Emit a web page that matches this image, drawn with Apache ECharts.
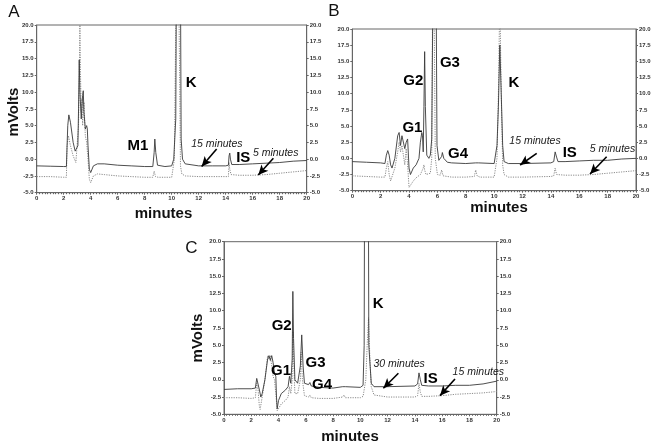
<!DOCTYPE html>
<html><head><meta charset="utf-8">
<script src="https://cdn.jsdelivr.net/npm/echarts@6/dist/echarts.min.js"></script>
<style>html,body{margin:0;padding:0;background:#fff}#c{width:657px;height:447px}</style>
</head><body><div id="c"></div>
<script>
// ---- data (time in minutes, signal in mV) ----
const xTicks = [0,2,4,6,8,10,12,14,16,18,20];
const yTicks = [-5,-2.5,0,2.5,5,7.5,10,12.5,15,17.5,20];

const aSolid15 = [[0,-1.0],[1,-1.05],[2,-1.1],[2.2,-1.1],[2.3,5.0],[2.38,6.6],[2.5,5.5],[2.7,2.5],[2.85,1.2],[2.95,1.0],[3.05,2.0],[3.1,7.5],[3.15,14.8],[3.2,10],[3.3,6],[3.4,9.5],[3.45,10.2],[3.5,7],[3.6,4.5],[3.7,5.0],[3.75,4.5],[3.8,2],[3.9,-1.5],[4.0,-2.0],[4.2,-1.0],[4.5,-0.7],[5,-0.7],[6,-0.9],[7,-1.0],[8,-1.1],[8.6,-1.1],[8.7,1.0],[8.75,3.0],[8.82,1.0],[8.95,-0.9],[9.5,-1.1],[10.0,-1.0],[10.15,0],[10.3,6],[10.38,40],[10.5,45],[10.62,40],[10.7,3],[10.8,0],[11,-0.7],[12,-1.0],[13,-1.0],[14,-1.0],[14.2,-0.9],[14.25,0.5],[14.3,0.9],[14.35,0],[14.45,-0.8],[15,-0.8],[16,-0.7],[17,-0.6],[18,-0.5],[19,-0.3],[20,-0.2]];
const aDotted5 = [[0,-2.6],[1,-2.6],[2,-2.7],[2.2,-2.7],[2.25,2.0],[2.35,3.5],[2.5,2.0],[2.7,0.5],[2.9,-0.5],[3.0,-0.5],[3.1,5],[3.15,12],[3.2,20],[3.25,12],[3.3,7],[3.35,9],[3.4,5],[3.5,8.5],[3.55,6],[3.6,3.5],[3.7,2.5],[3.8,0],[3.9,-3.0],[4.0,-3.5],[4.2,-2.5],[4.5,-2.2],[5,-2.3],[6,-2.5],[7,-2.6],[8,-2.7],[8.6,-2.7],[8.7,-1.8],[8.8,-2.6],[9,-2.7],[10,-2.7],[10.1,-2.5],[10.2,0],[10.3,20],[10.35,45],[10.45,45],[10.55,20],[10.65,-1],[10.75,-2.2],[11,-2.5],[12,-2.6],[14,-2.6],[14.2,-2.6],[14.25,-0.5],[14.3,-1.5],[14.4,-2.3],[15,-2.4],[16,-2.4],[17,-2.3],[18,-2.1],[19,-1.9],[20,-1.7]];

const bSolid15 = [[0,-0.5],[1,-0.6],[2,-0.7],[2.3,-0.8],[2.4,0.5],[2.5,1.2],[2.6,0.5],[2.7,-1.0],[2.8,-1.5],[3.0,0],[3.2,3.5],[3.3,4.0],[3.4,2.0],[3.5,3.5],[3.6,3.8],[3.7,1.5],[3.8,2.5],[3.9,3.0],[4.0,-1.5],[4.1,-2.5],[4.3,-1.5],[4.5,-1.0],[4.7,0],[4.8,2.5],[4.9,4.0],[4.95,3.5],[5.0,1.0],[5.05,8],[5.1,16.5],[5.15,8],[5.25,0.5],[5.4,0],[5.5,0.5],[5.6,3],[5.7,30],[5.8,45],[5.9,30],[5.97,2],[6.1,-0.3],[6.3,0.3],[6.35,0.9],[6.45,0],[6.7,-0.6],[7,-0.7],[8,-0.8],[8.7,-0.7],[8.8,-0.5],[8.9,-0.7],[10,-0.8],[10.2,2],[10.3,8],[10.4,17.5],[10.5,10],[10.6,2],[10.7,-0.5],[11,-0.8],[12,-0.8],[14,-0.7],[14.2,-0.5],[14.3,1.0],[14.4,0.2],[14.5,-0.5],[15,-0.5],[16,-0.4],[17,-0.3],[18,-0.3],[19,-0.1],[20,0.0]];
const bDotted5 = [[0,-2.7],[1,-2.8],[2,-2.9],[2.3,-2.9],[2.4,-1.5],[2.5,-0.5],[2.6,-2.5],[2.7,-3.5],[2.8,-3.2],[3.0,-1.5],[3.2,1.0],[3.3,2.5],[3.4,1.0],[3.5,2.0],[3.6,0.5],[3.7,-1.0],[3.8,1.5],[3.9,-1.0],[4.0,-4.5],[4.1,-4.7],[4.3,-3.5],[4.5,-3.0],[4.8,-2.5],[5.0,-1.5],[5.05,-1.0],[5.1,-1.8],[5.2,-2.5],[5.5,-2.3],[5.6,0],[5.65,20],[5.7,45],[5.78,20],[5.85,0],[6.0,-2.5],[6.2,-2.6],[6.3,-1.8],[6.4,-2.7],[7,-2.9],[8,-2.9],[8.6,-2.8],[8.7,-1.8],[8.8,-2.7],[9,-2.9],[10,-2.9],[10.2,0],[10.3,10],[10.4,25],[10.5,10],[10.6,-1],[10.7,-2.5],[11,-2.9],[12,-2.9],[14,-2.8],[14.2,-2.7],[14.3,-1.5],[14.4,-2.5],[15,-2.6],[16,-2.6],[17,-2.5],[18,-2.3],[19,-2.1],[20,-1.9]];

const cSolid30 = [[0,-1.4],[1,-1.3],[2,-1.3],[2.3,-1.2],[2.4,0.2],[2.5,0.1],[2.6,-1.5],[2.7,-2.5],[2.8,-2.0],[3.0,0],[3.2,3.0],[3.3,3.5],[3.4,2.8],[3.5,3.5],[3.6,2.5],[3.7,1.0],[3.8,0.5],[3.85,-2.5],[3.9,-4.2],[4.0,-3.0],[4.2,-2.0],[4.5,-1.5],[4.7,-1.0],[4.8,0.5],[4.9,-0.5],[5.0,3],[5.05,12.8],[5.1,6],[5.2,0],[5.4,-0.5],[5.6,2],[5.7,6.5],[5.8,2],[5.9,-0.5],[6.2,-0.7],[6.3,-0.4],[6.4,-0.9],[7,-1.1],[8,-1.2],[8.7,-1.0],[8.8,-0.8],[8.9,-1.0],[10,-1.1],[10.2,-0.8],[10.28,5],[10.33,45],[10.45,50],[10.57,45],[10.62,5],[10.8,-0.5],[11,-1.0],[12,-1.0],[14,-0.9],[14.2,-0.6],[14.3,1.0],[14.4,0.0],[14.5,-0.8],[15,-0.9],[16,-0.9],[17,-0.8],[18,-0.8],[19,-0.6],[20,-0.2]];
const cDotted15 = [[0,-2.6],[1,-2.6],[2,-2.7],[2.3,-2.6],[2.4,-0.5],[2.5,-1.5],[2.6,-4.0],[2.65,-4.3],[2.8,-2.5],[3.0,0],[3.2,3.5],[3.3,3.0],[3.4,3.5],[3.5,2.0],[3.6,0.5],[3.7,0],[3.8,-2.0],[3.9,-4.5],[4.0,-4.3],[4.2,-3.5],[4.5,-3.0],[4.7,-2.5],[4.8,-1.0],[4.9,-2.0],[5.0,0],[5.05,7],[5.1,3],[5.2,-2.0],[5.4,-2.0],[5.6,0],[5.65,4],[5.75,0],[5.9,-2.3],[6.2,-2.5],[6.3,-2.2],[6.4,-2.6],[7,-2.7],[8,-2.7],[8.7,-2.5],[8.8,-2.2],[8.9,-2.6],[10,-2.6],[10.2,-2.4],[10.4,0],[10.5,5],[10.6,9],[10.7,3],[10.8,-1],[11,-2.2],[12,-2.5],[14,-2.5],[14.2,-2.3],[14.3,-0.5],[14.4,-1.8],[14.5,-2.4],[15,-2.4],[16,-2.3],[17,-2.1],[18,-2.0],[19,-1.9],[20,-1.7]];

// peak labels [time, mV, text]
const aPeakLabels = [[7.5,1.96,'M1'],[11.44,11.43,'K'],[15.3,0.25,'IS']];
const bPeakLabels = [[6.88,14.82,'G3'],[4.3,11.96,'G2'],[4.24,4.77,'G1'],[7.45,0.67,'G4'],[11.4,11.73,'K'],[15.33,0.9,'IS']];
const cPeakLabels = [[11.31,10.95,'K'],[4.23,7.82,'G2'],[6.71,2.5,'G3'],[4.18,1.3,'G1'],[7.19,-0.76,'G4'],[15.16,0.19,'IS']];
// run-time notes [time, mV, text]
const aNotes = [[13.35,2.26,'15 minutes'],[17.7,0.92,'5 minutes']];
const bNotes = [[12.88,2.68,'15 minutes'],[18.34,1.37,'5 minutes']];
const cNotes = [[12.84,2.26,'30 minutes'],[18.65,1.05,'15 minutes']];
// arrows [[t0,v0],[t1,v1]]
const aArrows = [[[13.33,1.5],[12.22,-1.1]],[[17.53,0.13],[16.41,-2.36]]];
const bArrows = [[[13.0,0.78],[11.83,-1.03]],[[17.93,0.26],[16.76,-2.42]]];
const cArrows = [[[12.79,0.94],[11.69,-1.23]],[[16.94,0.11],[15.84,-2.3]]];

// ---- chart ----
const FONT = 'Liberation Sans, Arial, sans-serif';
const chart = echarts.init(document.getElementById('c'), null, {renderer:'canvas'});
const grids = [
  {left:36.7, top:25, width:270, height:167.7},
  {left:352.3, top:29, width:283.7, height:161.7},
  {left:224, top:241.7, width:272.7, height:172.6}
];
const yMin = yTicks[0], yMax = yTicks[yTicks.length-1], yInt = yTicks[1]-yTicks[0];
const xMin = xTicks[0], xMax = xTicks[xTicks.length-1], xInt = xTicks[1]-xTicks[0];
const axisCol = '#666';
const xAxes = grids.map((g,i)=>({
  type:'value', gridIndex:i, min:xMin, max:xMax, interval:xInt,
  axisLine:{onZero:false, lineStyle:{color:axisCol, width:1}},
  axisTick:{show:true, length:2, lineStyle:{color:axisCol}},
  minorTick:{show:true, splitNumber:10, length:1.5, lineStyle:{color:axisCol}},
  splitLine:{show:false},
  axisLabel:{fontSize:6, fontWeight:'bold', color:'#333', margin:3, fontFamily:FONT}
}));
const yAxes = [];
grids.forEach((g,i)=>{
  ['left','right'].forEach(pos=>{
    yAxes.push({
      type:'value', gridIndex:i, position:pos, min:yMin, max:yMax, interval:yInt,
      axisLine:{show:true, onZero:false, lineStyle:{color:axisCol, width:1}},
      axisTick:{show:true, length:2, lineStyle:{color:axisCol}},
      splitLine:{show:false},
      axisLabel:{fontSize:6, fontWeight:'bold', color:'#333', margin:3, fontFamily:FONT,
        formatter:v=>v.toFixed(1)}
    });
  });
});
const solidStyle = {color:'#3a3a3a', width:0.9};
const dotStyle = {color:'#8a8a8a', width:1, type:[1.2,1.2]};
function trace(data, i, style, z){
  return {type:'line', xAxisIndex:i, yAxisIndex:i*2, data:data, showSymbol:false, symbol:'none',
    lineStyle:style, clip:true, z:z, silent:true};
}
function labels(data, i, fs, italic){
  return {type:'scatter', xAxisIndex:i, yAxisIndex:i*2, data:data, symbolSize:0, silent:true, z:10,
    itemStyle:{color:'#000', opacity:0},
    label:{show:true, position:'inside', formatter:p=>p.data[2], color:italic?'#1a1a1a':'#000',
      textBorderWidth:0, textBorderColor:'transparent', opacity:1,
      fontSize:fs, fontWeight:italic?'normal':'bold', fontStyle:italic?'italic':'normal', fontFamily:FONT}};
}
function arrows(data, i){
  return {type:'line', xAxisIndex:i, yAxisIndex:i*2, data:[], silent:true,
    markLine:{silent:true, symbol:['none','arrow'], symbolSize:[7,10], animation:false,
      label:{show:false}, lineStyle:{color:'#000', width:1.6, type:'solid'},
      itemStyle:{color:'#000'},
      data:data.map(a=>[{coord:a[0]},{coord:a[1]}])}};
}
const series = [
  trace(aDotted5,0,dotStyle,2), trace(aSolid15,0,solidStyle,3),
  trace(bDotted5,1,dotStyle,2), trace(bSolid15,1,solidStyle,3),
  trace(cDotted15,2,dotStyle,2), trace(cSolid30,2,solidStyle,3),
  labels(aPeakLabels,0,15,false), labels(bPeakLabels,1,15,false), labels(cPeakLabels,2,15,false),
  labels(aNotes,0,10.5,true), labels(bNotes,1,10.5,true), labels(cNotes,2,10.5,true),
  arrows(aArrows,0), arrows(bArrows,1), arrows(cArrows,2)
];
function txt(x,y,s,font,rot){
  return {type:'text', x:x, y:y, rotation:rot||0, z:20, silent:true,
    style:{text:s, font:font, fill:'#111', textAlign:'center', textVerticalAlign:'middle'}};
}
const boldT = 'bold 15px Liberation Sans, Arial, sans-serif';
const letterT = '17px Liberation Sans, Arial, sans-serif';
chart.setOption({
  animation:false,
  grid: grids.map(g=>Object.assign({show:true, borderColor:axisCol, borderWidth:1, containLabel:false}, g)),
  xAxis:xAxes, yAxis:yAxes, series:series,
  graphic:[
    txt(14,12.5,'A',letterT), txt(334,11,'B',letterT), txt(191.5,248.5,'C',letterT),
    txt(14,112,'mVolts',boldT,Math.PI/2), txt(197.5,338,'mVolts',boldT,Math.PI/2),
    txt(163.5,214,'minutes',boldT), txt(499,208,'minutes',boldT), txt(350,437,'minutes',boldT)
  ]
});
</script></body></html>
